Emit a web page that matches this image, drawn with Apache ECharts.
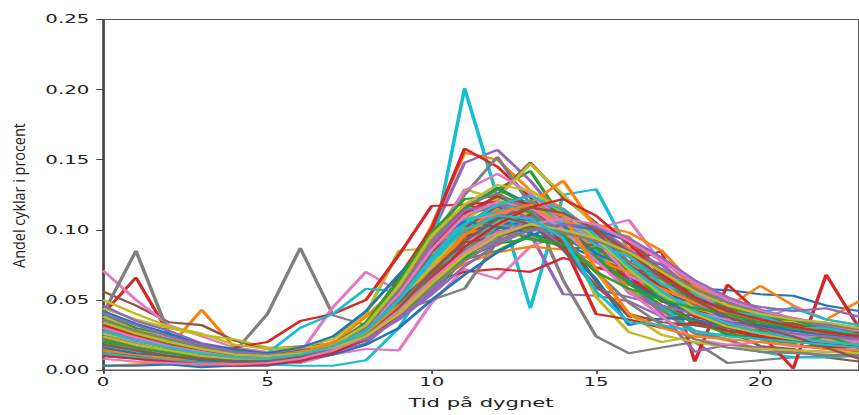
<!DOCTYPE html>
<html>
<head>
<meta charset="utf-8">
<script src="https://cdn.jsdelivr.net/npm/echarts@6/dist/echarts.min.js"></script>
<style>
  html, body { margin: 0; padding: 0; background: #fff; overflow: hidden; width: 859px; height: 415px; }
  /* the figure is laid out narrow and widened horizontally, like the original export */
  #chart { width: 500px; height: 415px; transform: scaleX(1.718); transform-origin: 0 0; }
</style>
</head>
<body>
<div id="chart"></div>
<script>
// hour of day
const hours = [0,1,2,3,4,5,6,7,8,9,10,11,12,13,14,15,16,17,18,19,20,21,22,23];
const xTicks = [0, 5, 10, 15, 20];
const yTicks = [0.00, 0.05, 0.10, 0.15, 0.20, 0.25];

// share of bikes per hour, one row per station, grouped by line colour
const blueRows = [
  [0.030,0.024,0.015,0.013,0.008,0.009,0.011,0.020,0.028,0.053,0.070,0.094,0.098,0.106,0.092,0.090,0.072,0.068,0.058,0.057,0.054,0.053,0.046,0.042],
  [0.025,0.017,0.014,0.009,0.007,0.008,0.010,0.017,0.027,0.055,0.078,0.104,0.110,0.117,0.100,0.092,0.064,0.055,0.038,0.034,0.025,0.023,0.019,0.018],
  [0.038,0.028,0.024,0.016,0.013,0.009,0.013,0.015,0.026,0.040,0.068,0.085,0.108,0.106,0.114,0.097,0.083,0.057,0.048,0.036,0.034,0.027,0.028,0.023],
  [0.012,0.009,0.005,0.005,0.003,0.004,0.009,0.014,0.032,0.056,0.094,0.115,0.130,0.118,0.108,0.082,0.063,0.043,0.036,0.025,0.024,0.017,0.017,0.013],
  [0.020,0.015,0.013,0.008,0.006,0.007,0.008,0.014,0.021,0.043,0.060,0.085,0.095,0.111,0.103,0.097,0.071,0.059,0.040,0.038,0.029,0.027,0.021,0.021],
  [0.028,0.021,0.014,0.012,0.007,0.009,0.010,0.018,0.025,0.048,0.072,0.099,0.105,0.104,0.087,0.065,0.032,0.037,0.036,0.031,0.023,0.022,0.017,0.017],
  [0.003,0.003,0.004,0.002,0.003,0.003,0.007,0.011,0.028,0.048,0.081,0.095,0.109,0.107,0.103,0.083,0.073,0.055,0.048,0.036,0.035,0.028,0.030,0.024],
  [0.042,0.033,0.026,0.018,0.015,0.012,0.016,0.024,0.042,0.068,0.092,0.106,0.102,0.098,0.090,0.080,0.062,0.050,0.040,0.034,0.032,0.028,0.025,0.023],
  [0.016,0.012,0.010,0.007,0.006,0.006,0.007,0.011,0.018,0.030,0.050,0.068,0.084,0.096,0.104,0.100,0.092,0.078,0.062,0.050,0.042,0.036,0.032,0.028]
];
const orangeRows = [
  [0.024,0.021,0.016,0.043,0.016,0.012,0.012,0.019,0.027,0.050,0.072,0.101,0.105,0.115,0.100,0.095,0.071,0.058,0.040,0.037,0.029,0.027,0.022,0.021],
  [0.030,0.021,0.017,0.011,0.009,0.007,0.013,0.019,0.038,0.060,0.103,0.155,0.150,0.128,0.115,0.089,0.073,0.049,0.042,0.030,0.028,0.023,0.022,0.018],
  [0.026,0.020,0.013,0.011,0.007,0.008,0.009,0.017,0.025,0.048,0.067,0.095,0.103,0.119,0.135,0.101,0.095,0.067,0.054,0.038,0.036,0.029,0.028,0.023],
  [0.022,0.016,0.014,0.009,0.008,0.009,0.010,0.016,0.023,0.042,0.058,0.081,0.089,0.103,0.099,0.101,0.087,0.080,0.058,0.045,0.060,0.046,0.036,0.049],
  [0.018,0.012,0.010,0.006,0.005,0.006,0.007,0.015,0.027,0.057,0.081,0.107,0.113,0.121,0.103,0.089,0.057,0.042,0.026,0.021,0.015,0.014,0.010,0.011],
  [0.003,0.004,0.005,0.003,0.004,0.004,0.008,0.013,0.032,0.058,0.091,0.099,0.115,0.103,0.101,0.087,0.083,0.061,0.052,0.038,0.036,0.029,0.027,0.021],
  [0.032,0.025,0.019,0.016,0.010,0.011,0.012,0.020,0.029,0.052,0.071,0.097,0.103,0.115,0.105,0.104,0.098,0.085,0.060,0.048,0.034,0.031,0.025,0.023],
  [0.014,0.011,0.008,0.007,0.005,0.006,0.009,0.016,0.030,0.046,0.062,0.076,0.084,0.088,0.086,0.078,0.070,0.058,0.048,0.040,0.035,0.031,0.027,0.024],
  [0.036,0.027,0.021,0.015,0.011,0.010,0.013,0.018,0.027,0.045,0.070,0.096,0.112,0.118,0.110,0.072,0.040,0.030,0.024,0.022,0.020,0.018,0.015,0.014]
];
const greenRows = [
  [0.028,0.021,0.014,0.012,0.008,0.009,0.010,0.019,0.029,0.058,0.083,0.115,0.129,0.142,0.107,0.091,0.063,0.052,0.038,0.035,0.027,0.026,0.021,0.021],
  [0.032,0.024,0.020,0.013,0.011,0.008,0.013,0.017,0.030,0.044,0.073,0.087,0.107,0.105,0.107,0.091,0.081,0.059,0.052,0.040,0.038,0.029,0.030,0.024],
  [0.015,0.012,0.007,0.007,0.004,0.006,0.007,0.015,0.025,0.053,0.077,0.103,0.109,0.117,0.099,0.087,0.061,0.050,0.034,0.030,0.022,0.021,0.017,0.017],
  [0.040,0.030,0.025,0.017,0.014,0.010,0.014,0.017,0.028,0.042,0.069,0.081,0.101,0.101,0.103,0.089,0.083,0.063,0.056,0.042,0.040,0.032,0.031,0.026],
  [0.010,0.008,0.005,0.006,0.004,0.005,0.009,0.013,0.025,0.042,0.073,0.087,0.103,0.093,0.089,0.073,0.073,0.061,0.052,0.036,0.032,0.022,0.021,0.016],
  [0.024,0.017,0.014,0.009,0.008,0.006,0.011,0.015,0.032,0.058,0.097,0.115,0.129,0.117,0.113,0.089,0.073,0.049,0.042,0.030,0.028,0.020,0.020,0.016],
  [0.020,0.017,0.011,0.010,0.006,0.008,0.008,0.015,0.021,0.040,0.055,0.079,0.085,0.097,0.087,0.087,0.071,0.065,0.049,0.046,0.036,0.036,0.028,0.029],
  [0.022,0.016,0.012,0.009,0.007,0.007,0.010,0.018,0.034,0.064,0.098,0.122,0.124,0.112,0.096,0.080,0.062,0.046,0.034,0.026,0.022,0.019,0.024,0.017],
  [0.034,0.026,0.019,0.015,0.011,0.010,0.012,0.016,0.024,0.040,0.060,0.080,0.090,0.094,0.090,0.070,0.058,0.050,0.044,0.040,0.034,0.030,0.027,0.025]
];
const redRows = [
  [0.040,0.066,0.026,0.017,0.013,0.009,0.014,0.017,0.032,0.050,0.083,0.099,0.115,0.107,0.103,0.085,0.071,0.049,0.042,0.031,0.030,0.023,0.022,0.018],
  [0.026,0.020,0.013,0.011,0.006,0.008,0.009,0.018,0.031,0.066,0.101,0.158,0.145,0.123,0.102,0.093,0.067,0.056,0.039,0.036,0.026,0.025,0.020,0.019],
  [0.018,0.015,0.009,0.009,0.016,0.020,0.035,0.040,0.050,0.082,0.117,0.118,0.113,0.115,0.101,0.093,0.069,0.061,0.044,0.040,0.030,0.030,0.024,0.023],
  [0.022,0.016,0.013,0.008,0.008,0.006,0.011,0.015,0.029,0.048,0.081,0.095,0.113,0.109,0.107,0.089,0.077,0.085,0.006,0.061,0.040,0.034,0.030,0.026],
  [0.020,0.016,0.010,0.009,0.005,0.007,0.008,0.016,0.025,0.048,0.069,0.095,0.101,0.111,0.097,0.091,0.067,0.057,0.040,0.036,0.026,0.001,0.068,0.030],
  [0.030,0.022,0.018,0.012,0.010,0.008,0.013,0.017,0.030,0.042,0.063,0.070,0.072,0.070,0.080,0.073,0.067,0.049,0.044,0.034,0.032,0.025,0.026,0.021],
  [0.014,0.011,0.006,0.006,0.003,0.005,0.006,0.014,0.025,0.057,0.087,0.118,0.120,0.116,0.112,0.098,0.075,0.059,0.038,0.032,0.022,0.022,0.016,0.016],
  [0.032,0.025,0.019,0.014,0.010,0.009,0.012,0.018,0.030,0.056,0.088,0.112,0.124,0.118,0.090,0.040,0.036,0.030,0.034,0.028,0.024,0.021,0.019,0.017],
  [0.010,0.008,0.006,0.004,0.003,0.004,0.007,0.012,0.022,0.040,0.064,0.088,0.104,0.116,0.122,0.110,0.090,0.068,0.052,0.042,0.036,0.031,0.027,0.024]
];
const purpleRows = [
  [0.024,0.019,0.012,0.011,0.006,0.008,0.009,0.017,0.029,0.060,0.097,0.148,0.157,0.135,0.107,0.089,0.061,0.050,0.035,0.032,0.024,0.023,0.018,0.018],
  [0.034,0.026,0.021,0.014,0.012,0.009,0.013,0.016,0.028,0.042,0.071,0.087,0.107,0.097,0.054,0.053,0.049,0.038,0.036,0.028,0.028,0.023,0.023,0.019],
  [0.046,0.035,0.028,0.019,0.015,0.011,0.014,0.016,0.026,0.038,0.065,0.079,0.101,0.105,0.113,0.097,0.087,0.063,0.052,0.038,0.036,0.029,0.028,0.023],
  [0.018,0.014,0.008,0.008,0.004,0.006,0.007,0.015,0.025,0.055,0.081,0.111,0.117,0.125,0.109,0.097,0.071,0.059,0.040,0.036,0.026,0.025,0.020,0.020],
  [0.022,0.016,0.014,0.009,0.009,0.006,0.011,0.014,0.028,0.046,0.079,0.095,0.113,0.109,0.103,0.077,0.063,0.040,0.013,0.018,0.016,0.014,0.013,0.012],
  [0.030,0.024,0.017,0.015,0.010,0.011,0.011,0.017,0.023,0.042,0.057,0.083,0.091,0.105,0.099,0.099,0.083,0.075,0.056,0.050,0.045,0.042,0.044,0.038],
  [0.010,0.009,0.005,0.006,0.003,0.006,0.007,0.013,0.019,0.038,0.055,0.083,0.093,0.109,0.103,0.103,0.085,0.075,0.056,0.050,0.038,0.037,0.030,0.029],
  [0.028,0.021,0.016,0.012,0.009,0.008,0.011,0.018,0.032,0.058,0.090,0.114,0.118,0.108,0.086,0.058,0.052,0.046,0.040,0.034,0.030,0.026,0.024,0.022],
  [0.040,0.032,0.024,0.018,0.013,0.011,0.012,0.015,0.022,0.036,0.054,0.074,0.090,0.100,0.104,0.102,0.094,0.080,0.064,0.052,0.043,0.037,0.033,0.030]
];
const brownRows = [
  [0.056,0.046,0.034,0.032,0.021,0.015,0.017,0.019,0.030,0.042,0.067,0.079,0.099,0.101,0.103,0.089,0.083,0.063,0.056,0.043,0.041,0.032,0.033,0.027],
  [0.026,0.021,0.014,0.012,0.007,0.009,0.010,0.018,0.027,0.052,0.075,0.107,0.125,0.148,0.123,0.105,0.073,0.059,0.040,0.036,0.026,0.025,0.020,0.020],
  [0.020,0.014,0.012,0.007,0.007,0.005,0.010,0.014,0.028,0.046,0.079,0.093,0.109,0.105,0.103,0.085,0.075,0.055,0.048,0.036,0.034,0.027,0.027,0.021],
  [0.016,0.013,0.008,0.008,0.004,0.006,0.007,0.015,0.027,0.059,0.085,0.113,0.115,0.117,0.099,0.089,0.063,0.051,0.032,0.028,0.017,0.015,0.009,0.006],
  [0.030,0.023,0.019,0.013,0.011,0.008,0.013,0.017,0.032,0.052,0.085,0.101,0.117,0.107,0.097,0.063,0.038,0.036,0.040,0.034,0.029,0.026,0.023,0.021],
  [0.036,0.027,0.022,0.015,0.013,0.010,0.014,0.017,0.028,0.040,0.067,0.083,0.105,0.109,0.113,0.099,0.093,0.071,0.060,0.044,0.040,0.031,0.030,0.025],
  [0.012,0.010,0.006,0.007,0.004,0.007,0.008,0.016,0.025,0.048,0.067,0.091,0.095,0.103,0.091,0.089,0.073,0.067,0.050,0.044,0.034,0.033,0.027,0.026],
  [0.024,0.018,0.014,0.010,0.008,0.007,0.010,0.016,0.028,0.052,0.080,0.100,0.110,0.104,0.086,0.060,0.040,0.034,0.032,0.030,0.028,0.022,0.020,0.018],
  [0.018,0.014,0.010,0.008,0.006,0.006,0.009,0.014,0.024,0.044,0.070,0.092,0.108,0.116,0.112,0.100,0.084,0.066,0.050,0.038,0.030,0.024,0.016,0.008]
];
const pinkRows = [
  [0.071,0.050,0.032,0.024,0.016,0.013,0.015,0.017,0.028,0.042,0.069,0.083,0.103,0.103,0.107,0.093,0.085,0.063,0.054,0.040,0.038,0.030,0.029,0.024],
  [0.020,0.016,0.010,0.009,0.005,0.007,0.012,0.045,0.070,0.056,0.081,0.091,0.103,0.095,0.095,0.081,0.075,0.055,0.048,0.036,0.034,0.026,0.026,0.021],
  [0.014,0.011,0.007,0.007,0.003,0.005,0.005,0.011,0.015,0.014,0.048,0.072,0.065,0.088,0.097,0.087,0.083,0.063,0.054,0.040,0.037,0.028,0.028,0.023],
  [0.026,0.020,0.013,0.012,0.007,0.009,0.009,0.016,0.023,0.044,0.061,0.087,0.095,0.109,0.101,0.101,0.107,0.076,0.056,0.042,0.034,0.029,0.026,0.023],
  [0.028,0.021,0.017,0.011,0.010,0.007,0.012,0.015,0.027,0.044,0.075,0.091,0.109,0.107,0.105,0.087,0.075,0.055,0.050,0.038,0.036,0.045,0.036,0.032],
  [0.018,0.014,0.009,0.009,0.005,0.007,0.008,0.016,0.027,0.055,0.079,0.107,0.111,0.117,0.101,0.093,0.069,0.059,0.041,0.037,0.027,0.027,0.021,0.021],
  [0.022,0.017,0.011,0.010,0.006,0.008,0.009,0.017,0.029,0.062,0.093,0.128,0.140,0.126,0.105,0.093,0.067,0.057,0.040,0.036,0.026,0.025,0.020,0.020],
  [0.030,0.023,0.017,0.013,0.009,0.009,0.012,0.018,0.030,0.054,0.086,0.110,0.120,0.116,0.100,0.078,0.056,0.038,0.022,0.018,0.020,0.017,0.015,0.014],
  [0.008,0.006,0.005,0.004,0.004,0.005,0.008,0.014,0.024,0.042,0.064,0.084,0.098,0.104,0.108,0.104,0.092,0.078,0.062,0.050,0.042,0.037,0.032,0.028]
];
const grayRows = [
  [0.040,0.085,0.026,0.018,0.013,0.040,0.087,0.039,0.032,0.044,0.071,0.087,0.107,0.105,0.101,0.083,0.073,0.053,0.046,0.034,0.032,0.024,0.024,0.020],
  [0.034,0.025,0.020,0.013,0.011,0.008,0.013,0.017,0.034,0.054,0.093,0.125,0.152,0.118,0.064,0.024,0.012,0.016,0.020,0.005,0.007,0.009,0.010,0.012],
  [0.024,0.019,0.012,0.011,0.006,0.008,0.009,0.017,0.027,0.053,0.075,0.103,0.109,0.117,0.101,0.093,0.069,0.059,0.042,0.038,0.028,0.028,0.022,0.021],
  [0.030,0.023,0.019,0.013,0.012,0.009,0.013,0.015,0.026,0.038,0.065,0.079,0.099,0.099,0.103,0.091,0.085,0.065,0.058,0.044,0.042,0.034,0.033,0.028],
  [0.012,0.010,0.006,0.006,0.003,0.005,0.006,0.014,0.025,0.053,0.079,0.111,0.117,0.119,0.097,0.083,0.055,0.043,0.026,0.022,0.013,0.013,0.010,0.011],
  [0.020,0.015,0.013,0.008,0.008,0.006,0.011,0.014,0.026,0.038,0.067,0.083,0.105,0.109,0.115,0.097,0.085,0.061,0.052,0.038,0.036,0.028,0.028,0.023],
  [0.026,0.021,0.014,0.012,0.007,0.009,0.010,0.018,0.025,0.042,0.050,0.058,0.092,0.120,0.109,0.101,0.077,0.065,0.046,0.040,0.029,0.029,0.023,0.022],
  [0.018,0.014,0.010,0.008,0.006,0.006,0.009,0.016,0.030,0.058,0.092,0.118,0.126,0.114,0.094,0.070,0.048,0.032,0.022,0.016,0.013,0.012,0.011,0.010],
  [0.036,0.028,0.022,0.016,0.012,0.010,0.012,0.016,0.024,0.040,0.060,0.078,0.092,0.100,0.098,0.092,0.084,0.072,0.058,0.048,0.041,0.036,0.032,0.029]
];
const oliveRows = [
  [0.044,0.036,0.030,0.025,0.022,0.016,0.016,0.022,0.040,0.085,0.087,0.129,0.122,0.107,0.101,0.081,0.071,0.051,0.045,0.034,0.032,0.025,0.025,0.021],
  [0.030,0.022,0.018,0.012,0.010,0.008,0.013,0.017,0.030,0.048,0.081,0.099,0.123,0.147,0.125,0.103,0.071,0.057,0.040,0.036,0.026,0.026,0.021,0.021],
  [0.038,0.029,0.024,0.016,0.014,0.010,0.014,0.017,0.030,0.046,0.077,0.093,0.113,0.109,0.101,0.052,0.027,0.020,0.024,0.026,0.024,0.022,0.020,0.018],
  [0.022,0.016,0.014,0.009,0.008,0.006,0.011,0.015,0.032,0.054,0.091,0.107,0.121,0.109,0.103,0.083,0.071,0.049,0.042,0.030,0.029,0.021,0.021,0.017],
  [0.050,0.040,0.031,0.026,0.018,0.015,0.014,0.020,0.027,0.048,0.065,0.091,0.097,0.107,0.095,0.093,0.075,0.067,0.050,0.045,0.035,0.035,0.029,0.028],
  [0.016,0.013,0.008,0.008,0.004,0.006,0.007,0.015,0.023,0.046,0.069,0.097,0.105,0.117,0.105,0.097,0.073,0.063,0.044,0.038,0.028,0.028,0.022,0.022],
  [0.026,0.021,0.014,0.012,0.007,0.009,0.010,0.018,0.027,0.052,0.073,0.101,0.105,0.113,0.093,0.070,0.040,0.025,0.020,0.016,0.015,0.014,0.013,0.012],
  [0.024,0.018,0.014,0.010,0.008,0.008,0.011,0.018,0.032,0.060,0.096,0.118,0.132,0.128,0.112,0.094,0.072,0.054,0.040,0.031,0.026,0.022,0.020,0.018],
  [0.034,0.026,0.020,0.015,0.011,0.010,0.012,0.016,0.024,0.040,0.062,0.082,0.096,0.104,0.100,0.094,0.084,0.070,0.056,0.046,0.040,0.036,0.034,0.030]
];
const cyanRows = [
  [0.030,0.023,0.015,0.013,0.008,0.009,0.010,0.017,0.029,0.052,0.084,0.201,0.123,0.044,0.125,0.129,0.085,0.060,0.044,0.035,0.029,0.025,0.022,0.020],
  [0.016,0.013,0.007,0.006,0.004,0.004,0.003,0.003,0.007,0.030,0.067,0.087,0.107,0.105,0.103,0.085,0.073,0.051,0.044,0.032,0.030,0.022,0.022,0.017],
  [0.026,0.021,0.014,0.012,0.007,0.012,0.030,0.040,0.058,0.056,0.083,0.097,0.113,0.109,0.107,0.087,0.075,0.053,0.046,0.034,0.032,0.024,0.024,0.020],
  [0.020,0.016,0.010,0.009,0.005,0.007,0.008,0.016,0.027,0.057,0.085,0.115,0.117,0.117,0.097,0.085,0.057,0.045,0.028,0.022,0.013,0.009,0.009,0.010],
  [0.032,0.024,0.020,0.013,0.011,0.008,0.013,0.016,0.028,0.042,0.069,0.083,0.103,0.103,0.107,0.093,0.085,0.065,0.058,0.044,0.042,0.044,0.036,0.032],
  [0.022,0.018,0.012,0.011,0.006,0.008,0.009,0.017,0.027,0.055,0.079,0.107,0.113,0.121,0.105,0.095,0.069,0.058,0.040,0.036,0.026,0.026,0.020,0.020],
  [0.036,0.027,0.022,0.015,0.012,0.009,0.013,0.016,0.028,0.042,0.071,0.087,0.107,0.105,0.105,0.089,0.081,0.061,0.054,0.041,0.039,0.030,0.030,0.025],
  [0.012,0.009,0.007,0.005,0.004,0.005,0.008,0.014,0.026,0.050,0.080,0.104,0.118,0.124,0.114,0.096,0.074,0.056,0.042,0.033,0.027,0.023,0.020,0.018],
  [0.028,0.021,0.016,0.012,0.009,0.008,0.011,0.017,0.028,0.050,0.078,0.100,0.110,0.108,0.094,0.056,0.034,0.032,0.028,0.024,0.022,0.020,0.018,0.016]
];

// matplotlib "tab10" cycle, one colour per group
const groups = [
  { color: '#1f77b4', rows: blueRows },
  { color: '#ff7f0e', rows: orangeRows },
  { color: '#2ca02c', rows: greenRows },
  { color: '#d62728', rows: redRows },
  { color: '#9467bd', rows: purpleRows },
  { color: '#8c564b', rows: brownRows },
  { color: '#e377c2', rows: pinkRows },
  { color: '#7f7f7f', rows: grayRows },
  { color: '#bcbd22', rows: oliveRows },
  { color: '#17becf', rows: cyanRows }
];

// interleave the groups so the colours cycle like a plain plotting loop
const series = [];
const maxRows = Math.max(...groups.map(g => g.rows.length));
for (let r = 0; r < maxRows; r++) {
  for (const g of groups) {
    const row = g.rows[r];
    if (!row) continue;
    series.push({
      type: 'line',
      data: hours.map((h, i) => [h, row[i]]),
      showSymbol: false,
      silent: true,
      lineStyle: { width: 2.1, color: g.color },
      itemStyle: { color: g.color },
      z: 2
    });
  }
}

const chart = echarts.init(document.getElementById('chart'), null, { renderer: 'svg' });
const tickFont = { fontFamily: 'DejaVu Sans', fontSize: 11.5, color: '#222' };

chart.setOption({
  animation: false,
  backgroundColor: '#fff',
  grid: {
    left: 60, top: 19.5, bottom: 45, right: -3.8,
    show: true, borderColor: '#555', borderWidth: 1.1, backgroundColor: 'transparent'
  },
  xAxis: {
    type: 'value', min: 0, max: 23, interval: 5,
    name: 'Tid på dygnet', nameLocation: 'middle', nameGap: 27,
    nameTextStyle: { fontFamily: 'DejaVu Sans', fontSize: 12.3, color: '#222' },
    axisLine: { show: true, onZero: false, lineStyle: { color: '#555', width: 1.1 } },
    axisTick: { show: true, length: 4, lineStyle: { color: '#444', width: 1 },
      customValues: xTicks },
    axisLabel: Object.assign({ margin: 6, customValues: xTicks,
      formatter: v => String(v) }, tickFont),
    splitLine: { show: false }
  },
  yAxis: {
    type: 'value', min: 0, max: 0.25, interval: 0.05,
    axisLine: { show: true, lineStyle: { color: '#444', width: 1.1 } },
    axisTick: { show: true, length: 4, lineStyle: { color: '#444', width: 1 },
      customValues: yTicks },
    axisLabel: Object.assign({ margin: 8, customValues: yTicks,
      formatter: v => v.toFixed(2) }, tickFont),
    splitLine: { show: false }
  },
  graphic: [{
    type: 'text',
    x: 11, y: 195.5,
    rotation: Math.PI / 2,
    scaleY: 0.63,
    style: {
      text: 'Andel cyklar i procent',
      font: '14.4px "Open Sans", "Noto Sans", sans-serif',
      fill: '#222',
      textAlign: 'center',
      textVerticalAlign: 'middle'
    }
  }],
  series: series
});
</script>
</body>
</html>
